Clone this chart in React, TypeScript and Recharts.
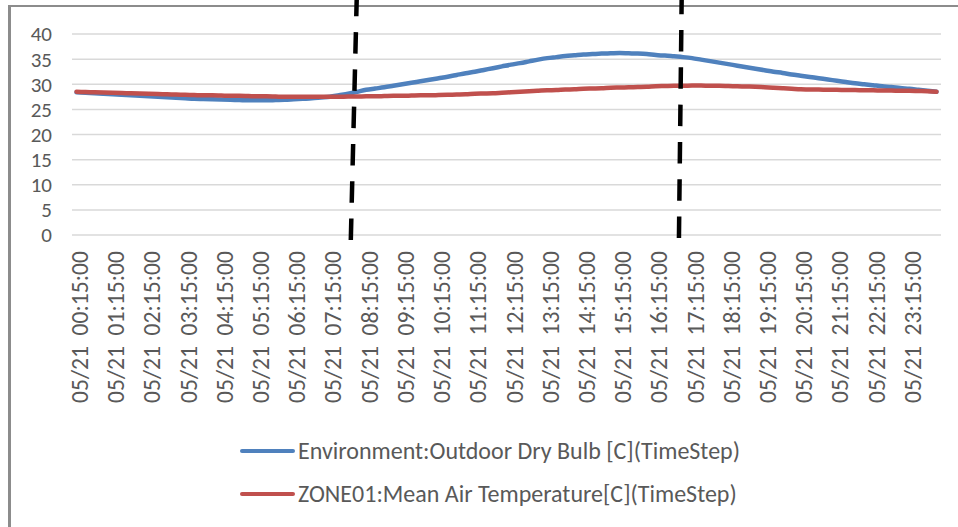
import React from 'react';
import { LineChart, Line, XAxis, YAxis, CartesianGrid, ReferenceLine, Legend } from 'recharts';

const tickLabels: string[] = [
  '05/21  00:15:00', '05/21  01:15:00', '05/21  02:15:00', '05/21  03:15:00',
  '05/21  04:15:00', '05/21  05:15:00', '05/21  06:15:00', '05/21  07:15:00',
  '05/21  08:15:00', '05/21  09:15:00', '05/21  10:15:00', '05/21  11:15:00',
  '05/21  12:15:00', '05/21  13:15:00', '05/21  14:15:00', '05/21  15:15:00',
  '05/21  16:15:00', '05/21  17:15:00', '05/21  18:15:00', '05/21  19:15:00',
  '05/21  20:15:00', '05/21  21:15:00', '05/21  22:15:00', '05/21  23:15:00',
];

// Outdoor dry bulb, 15-minute timesteps starting 00:15
const outdoorDryBulb: number[] = [
  28.4, 28.3, 28.2, 28.1, 28.0,
  27.9, 27.8, 27.7, 27.6,
  27.5, 27.4, 27.3, 27.2,
  27.1, 27.05, 27.0, 26.95,
  26.9, 26.85, 26.8, 26.8,
  26.8, 26.85, 26.9, 27.0,
  27.1, 27.2, 27.35, 27.5,
  27.8, 28.1, 28.5, 28.9,
  29.15, 29.4, 29.7, 30.0,
  30.3, 30.6, 30.9, 31.2,
  31.5, 31.85, 32.2, 32.5,
  32.85, 33.2, 33.55, 33.9,
  34.2, 34.55, 34.9, 35.2,
  35.4, 35.6, 35.75, 35.9,
  36.0, 36.1, 36.15, 36.2,
  36.15, 36.1, 36.0, 35.8,
  35.7, 35.55, 35.4, 35.2,
  34.9, 34.6, 34.3, 34.0,
  33.7, 33.4, 33.1, 32.8,
  32.5, 32.25, 31.95, 31.7,
  31.45, 31.2, 30.95, 30.7,
  30.45, 30.2, 30.0, 29.8,
  29.6, 29.45, 29.25, 29.1,
  28.9, 28.7, 28.5,
];

// Zone mean air temperature
const zoneMeanAir: number[] = [
  28.5, 28.45, 28.4, 28.35, 28.3,
  28.25, 28.2, 28.15, 28.1,
  28.05, 28.0, 27.95, 27.9,
  27.85, 27.8, 27.8, 27.75,
  27.7, 27.7, 27.65, 27.6,
  27.6, 27.55, 27.5, 27.5,
  27.5, 27.5, 27.5, 27.5,
  27.5, 27.55, 27.55, 27.6,
  27.6, 27.65, 27.7, 27.7,
  27.75, 27.8, 27.8, 27.85,
  27.9, 27.95, 28.0, 28.1,
  28.15, 28.2, 28.3, 28.4,
  28.5, 28.6, 28.7, 28.8,
  28.85, 28.95, 29.0, 29.1,
  29.15, 29.2, 29.3, 29.35,
  29.4, 29.45, 29.5, 29.6,
  29.65, 29.7, 29.7, 29.75,
  29.75, 29.7, 29.7, 29.65,
  29.6, 29.55, 29.5, 29.4,
  29.3, 29.2, 29.1, 29.0,
  28.95, 28.95, 28.9, 28.9,
  28.85, 28.85, 28.8, 28.8,
  28.75, 28.75, 28.7, 28.7,
  28.65, 28.6, 28.5,
];

const yTicks: number[] = [0, 5, 10, 15, 20, 25, 30, 35, 40];

// Hand-drawn dashed markers (timestep index, value) bottom -> top
const markerA = [{ x: 30.3, y: -1 }, { x: 30.95, y: 46.8 }];
const markerB = [{ x: 66.55, y: -0.6 }, { x: 66.85, y: 46.8 }];

const seriesNames = [
  'Environment:Outdoor Dry Bulb [C](TimeStep)',
  'ZONE01:Mean Air Temperature[C](TimeStep)',
];
const seriesColors = ['#4f81bd', '#c0504d'];

const data = outdoorDryBulb.map((v, i) => ({
  idx: i,
  outdoor: v,
  zone: zoneMeanAir[i],
}));

const tickPositions = tickLabels.map((_, k) => k * 4);

const FONT = "Carlito, 'Open Sans', sans-serif";
const TEXT = '#595959';
const FS = 23.6;

const XTick = (props: any) => {
  const { x, y, payload } = props;
  const label = tickLabels[Math.round(payload.value / 4)];
  const ax = x + 11.5;
  const ay = y + 16;
  return (
    <text
      x={ax}
      y={ay}
      transform={`rotate(-90, ${ax}, ${ay})`}
      textAnchor="end"
      fill={TEXT}
      fontSize={FS}
      fontFamily={FONT}
      style={{ whiteSpace: 'pre' }}
    >
      {label}
    </text>
  );
};

const LegendContent = () => (
  <div style={{ position: 'relative', width: 958, height: 107, fontFamily: FONT }}>
    {seriesNames.map((name, i) => (
      <div key={name} style={{ position: 'absolute', left: 240, top: 31 + i * 43 - 15, height: 30, display: 'flex', alignItems: 'center' }}>
        <div style={{ width: 55, height: 4, borderRadius: 2, background: seriesColors[i], marginRight: 3 }} />
        <span style={{ fontSize: 24, color: TEXT, whiteSpace: 'pre', lineHeight: '30px' }}>{name}</span>
      </div>
    ))}
  </div>
);

export default function App() {
  return (
    <div style={{ position: 'absolute', left: 0, top: 0, width: 958, height: 527, background: '#fff', overflow: 'hidden' }}>
      <div style={{ position: 'absolute', left: 8, top: 5, width: 1000, height: 600, borderLeft: '3px solid #8c8c8c', borderTop: '2px solid #8c8c8c' }} />
      <div style={{ position: 'absolute', left: 0, top: 0 }}>
        <LineChart width={958} height={527} data={data} margin={{ top: 34, right: 17, bottom: 0, left: 12 }}>
          <CartesianGrid horizontal vertical={false} stroke="#d9d9d9" strokeWidth={1.5} />
          <XAxis
            dataKey="idx"
            type="number"
            domain={[-0.5, 95.5]}
            ticks={tickPositions}
            interval={0}
            axisLine={false}
            tickLine={false}
            tickSize={0}
            tickMargin={0}
            height={185}
            tick={<XTick />}
          />
          <YAxis
            domain={[0, 40]}
            ticks={yTicks}
            interval={0}
            axisLine={false}
            tickLine={false}
            tickSize={0}
            tickMargin={20}
            width={60}
            tick={{ fill: TEXT, fontSize: 21, fontFamily: FONT }}
          />
          <Legend verticalAlign="bottom" content={<LegendContent />} wrapperStyle={{ left: 0, width: 958, height: 107 }} />
          <Line type="monotone" dataKey="outdoor" name={seriesNames[0]} stroke={seriesColors[0]} strokeWidth={4.5} dot={false} isAnimationActive={false} strokeLinecap="round" />
          <Line type="monotone" dataKey="zone" name={seriesNames[1]} stroke={seriesColors[1]} strokeWidth={4.5} dot={false} isAnimationActive={false} strokeLinecap="round" />
          <ReferenceLine segment={markerA} stroke="#000" strokeWidth={4.5} strokeDasharray="21.5 15.8" ifOverflow="visible" />
          <ReferenceLine segment={markerB} stroke="#000" strokeWidth={4.5} strokeDasharray="21.5 15.8" ifOverflow="visible" />
        </LineChart>
      </div>
    </div>
  );
}
